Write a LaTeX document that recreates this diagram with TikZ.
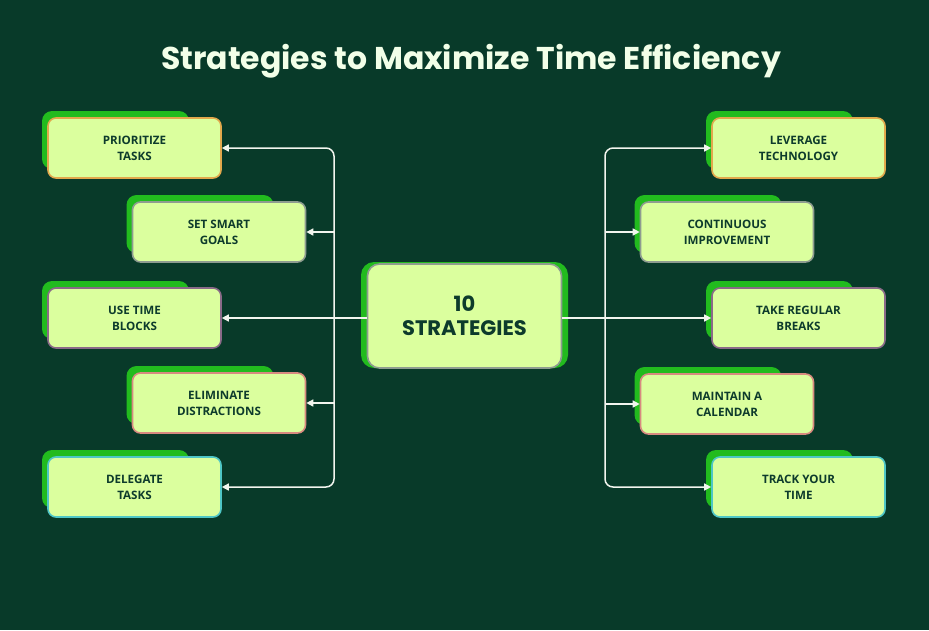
\documentclass[tikz,border=0pt]{standalone}
\usepackage{fontspec}
\setmainfont{Open Sans}
\newfontfamily\titlefont{Poppins}
\usetikzlibrary{arrows.meta}
\definecolor{bg}{HTML}{083A29}
\definecolor{boxfill}{HTML}{DBFF9E}
\definecolor{shadowc}{HTML}{22BB1E}
\definecolor{textc}{HTML}{0D3B2C}
\definecolor{titlec}{HTML}{F2FFE8}
\definecolor{linec}{HTML}{F2F5EE}
\definecolor{bOrange}{HTML}{E2A84C}
\definecolor{bGrey}{HTML}{8E9C90}
\definecolor{bPurple}{HTML}{8A6A88}
\definecolor{bPink}{HTML}{D88A80}
\definecolor{bCyan}{HTML}{4EC6C6}
\tikzset{
  leaf/.style={draw=#1, line width=1.6pt, fill=boxfill, rounded corners=8pt,
    minimum width=173pt, minimum height=60pt, inner sep=0pt, align=center,
    text=textc, font=\bfseries\fontsize{11.6}{16}\selectfont},
  hub/.style={draw=bGrey, line width=1.6pt, fill=boxfill, rounded corners=12pt,
    minimum width=194pt, minimum height=104pt, inner sep=0pt, align=center,
    text=textc, font=\titlefont\bfseries\fontsize{21}{24}\selectfont},
  conn/.style={draw=linec, line width=1.5pt, -{Triangle[length=7pt,width=7pt]}},
  trunk/.style={conn, rounded corners=8pt}
}
\newcommand{\leafbox}[5]{%
  \fill[shadowc, rounded corners=10pt] (#2-87.5-5,#3-31-6) rectangle (#2+87.5-33,#3+31-10);
  \node[leaf=#4] (#1) at (#2,#3) {#5};
}
\begin{document}
\begin{tikzpicture}[x=1pt,y=-1pt]
\fill[bg] (0,0) rectangle (929,630);
\useasboundingbox (0,0) rectangle (929,630);

\node[text=titlec, font=\titlefont\bfseries\fontsize{31.5}{36}\selectfont] (title) at (471,61) {Strategies to Maximize Time Efficiency};

% hub
\fill[shadowc, rounded corners=13pt] (361,262) rectangle (568,368);
\node[hub] (hub) at (464.5,316) {10\\STRATEGIES};

% left leaves
\leafbox{l1}{134.5}{148}{bOrange}{PRIORITIZE\\TASKS}
\leafbox{l2}{219}{232}{bGrey}{SET SMART\\GOALS}
\leafbox{l3}{134.5}{318}{bPurple}{USE TIME\\BLOCKS}
\leafbox{l4}{219}{403}{bPink}{ELIMINATE\\DISTRACTIONS}
\leafbox{l5}{134.5}{487}{bCyan}{DELEGATE\\TASKS}

% right leaves
\leafbox{r1}{798.5}{148}{bOrange}{LEVERAGE\\TECHNOLOGY}
\leafbox{r2}{727}{232}{bGrey}{CONTINUOUS\\IMPROVEMENT}
\leafbox{r3}{798.5}{318}{bPurple}{TAKE REGULAR\\BREAKS}
\leafbox{r4}{727}{404}{bPink}{MAINTAIN A\\CALENDAR}
\leafbox{r5}{798.5}{487}{bCyan}{TRACK YOUR\\TIME}

% junctions
\coordinate (jl) at (334,318);
\coordinate (jr) at (605,318);

% left connectors
\draw[conn] (hub.west |- l3.east) -- (l3.east);
\draw[trunk] (jl) |- (l1.east);
\draw[trunk] (jl) |- (l5.east);
\draw[conn] (jl |- l2.east) -- (l2.east);
\draw[conn] (jl |- l4.east) -- (l4.east);

% right connectors
\draw[conn] (hub.east |- r3.west) -- (r3.west);
\draw[trunk] (jr) |- (r1.west);
\draw[trunk] (jr) |- (r5.west);
\draw[conn] (jr |- r2.west) -- (r2.west);
\draw[conn] (jr |- r4.west) -- (r4.west);
\end{tikzpicture}
\end{document}
